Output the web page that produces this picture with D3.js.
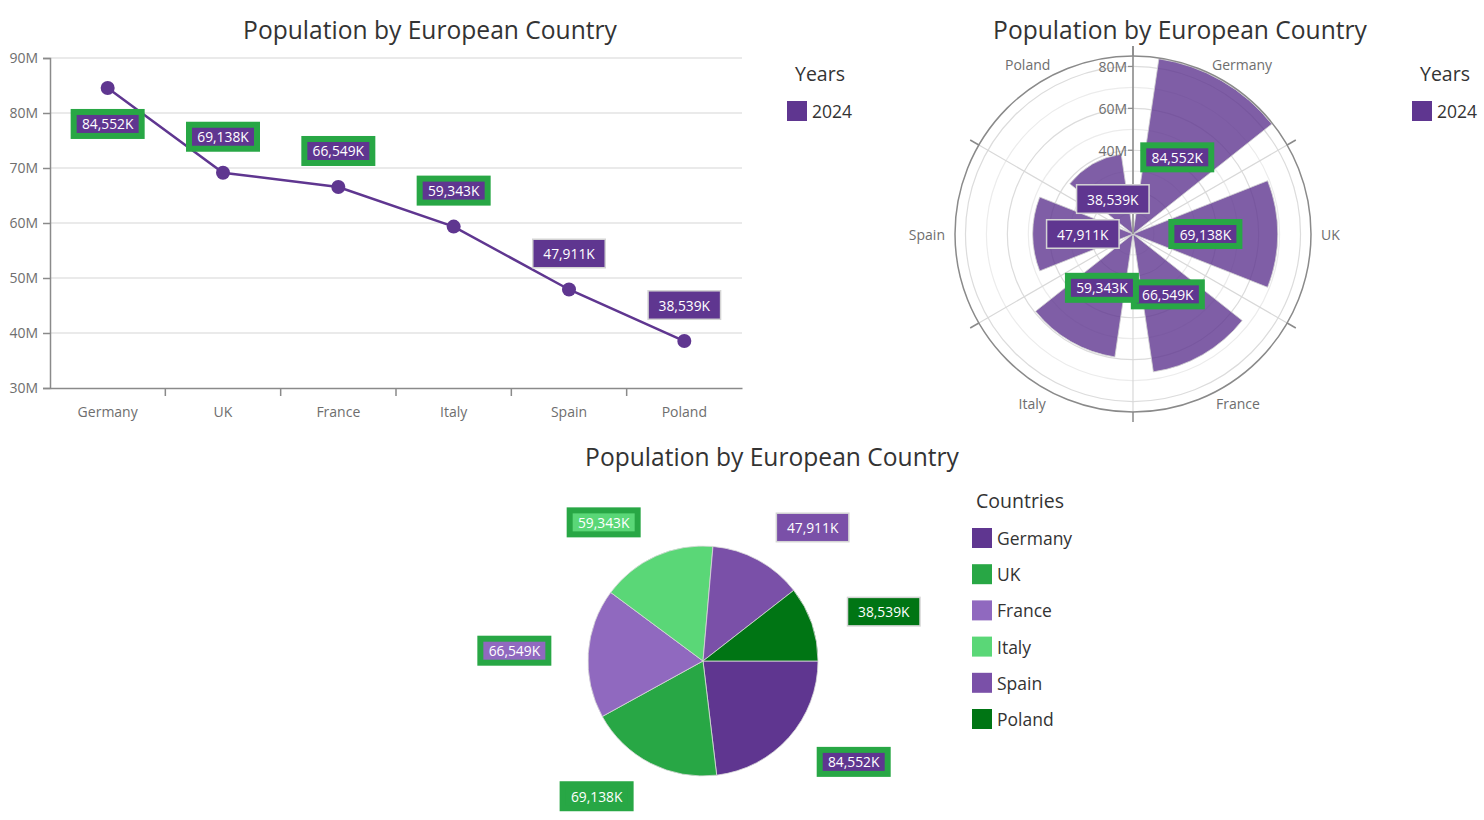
<!DOCTYPE html>
<html>
<head>
<meta charset="utf-8">
<script src="https://cdn.jsdelivr.net/npm/d3@7"></script>
<style>
  html, body { margin: 0; padding: 0; background: #fff; }
  svg { display: block; font-family: "Segoe UI", "Open Sans", "Noto Sans", sans-serif; }
</style>
</head>
<body>
<svg id="chart" width="1484" height="820"></svg>
<script>
// ---------- data ----------
const chartTitle = "Population by European Country";
const countries = ["Germany", "UK", "France", "Italy", "Spain", "Poland"];
const population = [84552000, 69138000, 66549000, 59343000, 47911000, 38539000];
const years = ["2024"];
const lineYTicks = [30e6, 40e6, 50e6, 60e6, 70e6, 80e6, 90e6];
const polarTicks = [40e6, 60e6, 80e6];
const pieColors = ["#5f3690", "#28a745", "#9069bf", "#5ad777", "#7a50a8", "#007514"];

// ---------- style ----------
const PURPLE = "#5f3690";
const GREEN = "#28a745";
const AXIS = "#8a8a8a";
const GRID = "#e3e3e3";
const TXT = "#333";
const TICKTXT = "#6e6e6e";
const highlightThreshold = 50e6;

const fmtK = v => d3.format(",")(Math.round(v / 1000)) + "K";
const fmtM = v => (v / 1e6) + "M";

const svg = d3.select("#chart");

function label(g, cx, cy, text, fill, highlighted) {
  const w = 74, h = 30;
  const grp = g.append("g").attr("class", "data-label");
  if (highlighted) {
    grp.append("rect")
      .attr("x", cx - w / 2 + 3).attr("y", cy - h / 2 + 3)
      .attr("width", w - 6).attr("height", h - 6)
      .attr("fill", fill).attr("stroke", GREEN).attr("stroke-width", 6);
  } else {
    grp.append("rect")
      .attr("x", cx - w / 2 + 0.75).attr("y", cy - h / 2 + 0.75)
      .attr("width", w - 1.5).attr("height", h - 1.5)
      .attr("fill", fill).attr("stroke", "#d4d4d4").attr("stroke-width", 1.5);
  }
  grp.append("text")
    .attr("x", cx).attr("y", cy)
    .attr("text-anchor", "middle").attr("dominant-baseline", "central")
    .attr("fill", "#fff").attr("font-size", 13.8)
    .text(text);
}

function title(x, y, t) {
  svg.append("text").attr("x", x).attr("y", y)
    .attr("text-anchor", "middle").attr("dominant-baseline", "central")
    .attr("font-size", 24.6).attr("fill", TXT).text(t);
}

function legend(x, y, heading, items, colors, headDx) {
  const g = svg.append("g").attr("class", "legend");
  g.append("text").attr("x", x + headDx).attr("y", y)
    .attr("dominant-baseline", "central").attr("font-size", 19.5).attr("fill", TXT).text(heading);
  items.forEach((it, i) => {
    const yy = y + 38 + i * 36.2;
    g.append("rect").attr("x", x - 5).attr("y", yy - 10).attr("width", 20).attr("height", 20).attr("fill", colors[i]);
    g.append("text").attr("x", x + 20).attr("y", yy).attr("dominant-baseline", "central")
      .attr("font-size", 17.5).attr("fill", TXT).text(it);
  });
}

function styleAxis(sel) {
  sel.attr("font-family", null).attr("font-size", null);
  sel.select(".domain").attr("stroke", AXIS).attr("stroke-width", 1.5);
  sel.selectAll(".tick line").attr("stroke", AXIS).attr("stroke-width", 1.5);
  sel.selectAll("text").attr("fill", TICKTXT).attr("font-size", 14);
}

// =============== LINE CHART ===============
(function () {
  const left = 50, right = 742, top = 58, bottom = 388;
  const x = d3.scaleBand().domain(countries).range([left, right]);
  const y = d3.scaleLinear().domain([30e6, 90e6]).range([bottom, top]);
  const g = svg.append("g").attr("class", "line-chart");

  title(430, 29, chartTitle);

  // grid
  g.append("g").selectAll("line").data(lineYTicks.slice(1)).join("line")
    .attr("x1", left).attr("x2", right)
    .attr("y1", d => y(d)).attr("y2", d => y(d))
    .attr("stroke", GRID).attr("stroke-width", 1.5);

  // y axis
  const ya = g.append("g").attr("transform", `translate(${left},0)`)
    .call(d3.axisLeft(y).tickValues(lineYTicks).tickFormat(fmtM).tickSize(7).tickPadding(5));
  styleAxis(ya);

  // x axis
  const xa = g.append("g").attr("transform", `translate(0,${bottom})`)
    .call(d3.axisBottom(x).tickSize(0).tickPadding(19));
  styleAxis(xa);
  // band separators
  g.append("g").selectAll("line").data(countries.slice(1)).join("line")
    .attr("x1", d => x(d)).attr("x2", d => x(d))
    .attr("y1", bottom).attr("y2", bottom + 8)
    .attr("stroke", AXIS).attr("stroke-width", 1.5);

  const pts = countries.map((c, i) => ({ c, v: population[i] }));
  g.append("path").datum(pts)
    .attr("fill", "none").attr("stroke", PURPLE).attr("stroke-width", 2.5)
    .attr("d", d3.line().x(d => x(d.c) + x.bandwidth() / 2).y(d => y(d.v)));
  g.append("g").selectAll("circle").data(pts).join("circle")
    .attr("cx", d => x(d.c) + x.bandwidth() / 2).attr("cy", d => y(d.v))
    .attr("r", 7).attr("fill", PURPLE);

  pts.forEach(d => {
    const cx = x(d.c) + x.bandwidth() / 2, py = y(d.v);
    let cy = py - 36;
    if (cy - 15 < top) cy = py + 36;
    label(g, cx, cy, fmtK(d.v), PURPLE, d.v > highlightThreshold);
  });

  legend(792, 73, "Years", years, [PURPLE], 3);
})();

// =============== POLAR CHART ===============
(function () {
  const cx = 1133, cy = 234, R = 178;
  const g = svg.append("g").attr("class", "polar").attr("transform", `translate(${cx},${cy})`);
  const r = d3.scaleLinear().domain([0, 85e6]).range([0, R]);
  const a = d3.scaleBand().domain(countries).range([0, 2 * Math.PI]).paddingInner(0.28).paddingOuter(0.14);
  const step = 2 * Math.PI / countries.length;

  title(1180, 29, chartTitle);

  // grid circles
  const rings = d3.range(10e6, 81e6, 10e6);
  g.append("g").selectAll("circle").data(rings).join("circle")
    .attr("r", d => r(d)).attr("fill", "none")
    .attr("stroke", d => (d % 20e6 === 0 ? "#dcdcdc" : "#ececec")).attr("stroke-width", 1.2);

  // spokes
  const spokes = d3.range(0, countries.length).map(i => i * step);
  g.append("g").selectAll("line").data(spokes).join("line")
    .attr("x1", 0).attr("y1", 0)
    .attr("x2", d => Math.sin(d) * R).attr("y2", d => -Math.cos(d) * R)
    .attr("stroke", "#d8d8d8").attr("stroke-width", 1.2);

  // bars
  const arc = d3.arc().innerRadius(0);
  g.append("g").selectAll("path").data(countries.map((c, i) => ({ c, v: population[i] }))).join("path")
    .attr("d", d => arc({ outerRadius: r(d.v), startAngle: a(d.c), endAngle: a(d.c) + a.bandwidth() }))
    .attr("fill", PURPLE).attr("fill-opacity", 0.8)
    .attr("stroke", "#d0d0d0").attr("stroke-width", 0.8);

  // outer circle + spoke ticks
  g.append("circle").attr("r", R).attr("fill", "none").attr("stroke", AXIS).attr("stroke-width", 1.5);
  g.append("g").selectAll("line").data(spokes).join("line")
    .attr("x1", d => Math.sin(d) * R).attr("y1", d => -Math.cos(d) * R)
    .attr("x2", d => Math.sin(d) * (R + 10)).attr("y2", d => -Math.cos(d) * (R + 10))
    .attr("stroke", AXIS).attr("stroke-width", 1.5);
  // radial axis
  g.append("line").attr("x1", 0).attr("x2", 0).attr("y1", 0).attr("y2", -(R + 10))
    .attr("stroke", AXIS).attr("stroke-width", 1.5);
  const rt = g.append("g").selectAll("g").data(polarTicks).join("g");
  rt.append("line").attr("x1", -5).attr("x2", 0).attr("y1", d => -r(d)).attr("y2", d => -r(d))
    .attr("stroke", AXIS).attr("stroke-width", 1.2);
  rt.append("text").attr("x", -6).attr("y", d => -r(d)).attr("text-anchor", "end")
    .attr("dominant-baseline", "central").attr("font-size", 14).attr("fill", TICKTXT).text(fmtM);

  // category labels
  countries.forEach(c => {
    const th = a(c) + a.bandwidth() / 2;
    const s = Math.sin(th), co = Math.cos(th);
    const t = g.append("text").attr("text-anchor", "middle").attr("dominant-baseline", "central")
      .attr("font-size", 14).attr("fill", TICKTXT).text(c);
    const hw = t.node().getComputedTextLength() / 2, hh = 8;
    t.attr("x", s * (R + 10) + hw * s).attr("y", -co * (R + 10) - hh * co);
  });

  // value labels at half radius
  countries.forEach((c, i) => {
    const th = a(c) + a.bandwidth() / 2;
    const rr = r(population[i]) / 2;
    label(g, Math.sin(th) * rr, -Math.cos(th) * rr, fmtK(population[i]), PURPLE, population[i] > highlightThreshold);
  });

  legend(1417, 73, "Years", years, [PURPLE], 3);
})();

// =============== PIE CHART ===============
(function () {
  const cx = 703, cy = 661, R = 115;
  const g = svg.append("g").attr("class", "pie").attr("transform", `translate(${cx},${cy})`);
  title(772, 456, chartTitle);

  const pie = d3.pie().sort(null).value(d => d.v).startAngle(Math.PI / 2).endAngle(Math.PI / 2 + 2 * Math.PI);
  const data = pie(countries.map((c, i) => ({ c, v: population[i], col: pieColors[i] })));
  const arc = d3.arc().innerRadius(0).outerRadius(R);
  g.append("g").selectAll("path").data(data).join("path")
    .attr("d", arc).attr("fill", d => d.data.col)
    .attr("stroke", "#d9d9d9").attr("stroke-width", 0.8);

  data.forEach(d => {
    const th = (d.startAngle + d.endAngle) / 2;
    const s = Math.sin(th), co = Math.cos(th);
    const ra = R + 37, hw = 37;
    const lx = s * ra + hw * Math.sign(s), ly = -co * ra;
    label(g, lx, ly, fmtK(d.data.v), d.data.col, d.data.v > highlightThreshold);
  });

  legend(977, 500, "Countries", countries, pieColors, -1);
})();
</script>
</body>
</html>
